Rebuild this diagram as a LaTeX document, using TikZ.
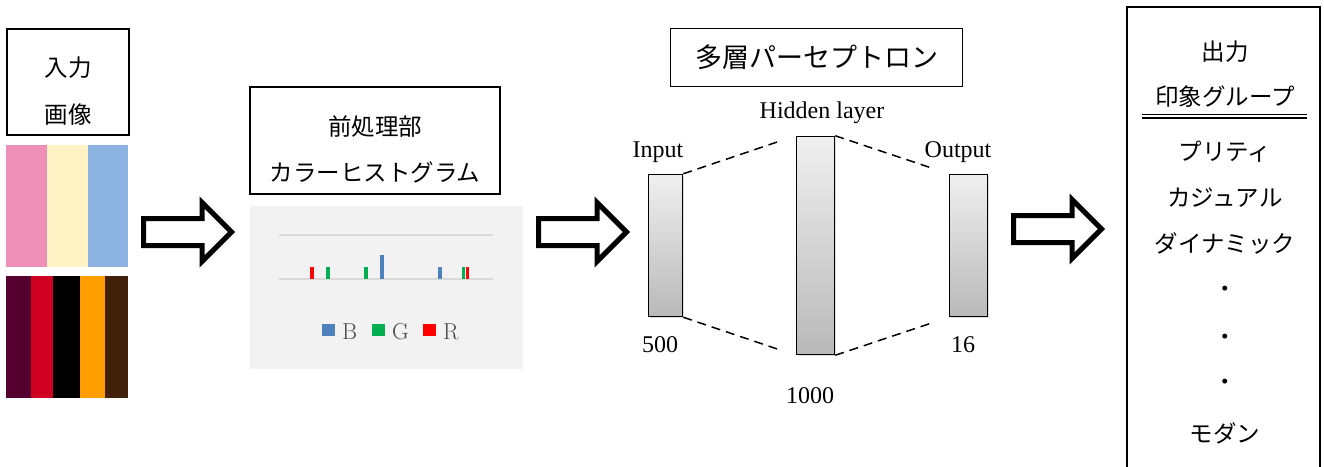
\documentclass[tikz,border=0pt]{standalone}
\usepackage{fontspec}
\setmainfont{Liberation Serif}
\newfontfamily\jp{Noto Sans CJK JP}
\usetikzlibrary{shapes.arrows,shadows}

\definecolor{pinkc}{RGB}{239,144,184}
\definecolor{creamc}{RGB}{255,242,196}
\definecolor{bluec}{RGB}{141,179,226}
\definecolor{winec}{RGB}{85,0,47}
\definecolor{redc}{RGB}{208,0,34}
\definecolor{orangec}{RGB}{255,158,0}
\definecolor{brownc}{RGB}{66,33,11}
\definecolor{histbg}{RGB}{242,242,242}
\definecolor{gridc}{RGB}{217,217,217}
\definecolor{barB}{RGB}{79,129,189}
\definecolor{barG}{RGB}{0,176,80}
\definecolor{barR}{RGB}{255,0,0}

\tikzset{
  box/.style={draw, line width=2pt, rectangle, inner sep=0pt},
  jtxt/.style={font=\jp\fontsize{23.5}{28}\selectfont, inner sep=0pt},
  ltxt/.style={font=\fontsize{24}{28}\selectfont, anchor=base, inner sep=0pt},
  layer/.style={draw, line width=1.5pt, rectangle, inner sep=0pt, top color=gray!12, bottom color=gray!55,
    drop shadow={shadow xshift=1.5pt, shadow yshift=-1.5pt, opacity=.25}},
  flow/.style={draw, line width=5pt, line join=miter, fill=white, single arrow, single arrow head extend=16pt,
    minimum height=88pt, minimum width=54pt, inner xsep=0pt, inner ysep=11pt, anchor=tail},
  link/.style={dashed, dash pattern=on 9pt off 6pt, line width=1.5pt}
}

\begin{document}
\begin{tikzpicture}[x=1pt, y=-1pt]
\useasboundingbox (0,0) rectangle (1324,466);

% input image
\node[box, minimum width=122pt, minimum height=106pt] (inbox) at (68,82) {};
\node[jtxt] (intop) at (68,68) {入力};
\node[jtxt] (inbot) at (68,115) {画像};
\foreach \c/\a/\b in {pinkc/6/47, creamc/47/88, bluec/88/128}
{
	\fill[\c] (\a,145) rectangle (\b,267);
}
\foreach \c/\a/\b in {winec/6/31, redc/31/53, black/53/80, orangec/80/105, brownc/105/128}
{
	\fill[\c] (\a,276) rectangle (\b,398);
}

\node[flow] (a1) at (141,232) {};

% preprocessing
\node[box, minimum width=250pt, minimum height=107pt] (prebox) at (375,140.5) {};
\node[jtxt] (pretop) at (375,127) {前処理部};
\node[jtxt] (prebot) at (375,172) {カラーヒストグラム};

\node[fill=histbg, minimum width=273pt, minimum height=163pt, inner sep=0pt] (hist) at (386.5,287.5) {};
\draw[gridc, line width=1.2pt] (279,235)--(493,235);
\draw[gridc, line width=1.2pt] (279,279)--(493,279);
\foreach \c/\x/\h in {barR/312/12, barG/328/12, barG/366/12, barB/382/24, barB/440/12, barG/463.5/12, barR/467.5/12}
{
	\fill[\c] (\x-1.7,279) rectangle (\x+1.7,279-\h);
}
\foreach \c/\x/\t in {barB/328/B, barG/378/G, barR/429/R}
{
	\fill[\c] (\x-6.5,324) rectangle (\x+6.5,336);
	\node[font=\fontfamily{lmr}\selectfont\fontsize{23}{26}\selectfont, text=black!72, anchor=base west, inner sep=0pt]
		(leg\t) at (\x+14,339) {\t};
}

\node[flow] (a2) at (536,232) {};

% perceptron
\node[draw, line width=1.2pt, minimum width=292pt, minimum height=58pt, inner sep=0pt,
	font=\jp\fontsize{27}{30}\selectfont] (mlp) at (816.5,57.5) {多層パーセプトロン};

\node[layer, minimum width=34pt, minimum height=142pt] (inl) at (665.5,245.5) {};
\node[layer, minimum width=38pt, minimum height=218pt] (hid) at (815.5,245.5) {};
\node[layer, minimum width=38pt, minimum height=142pt] (outl) at (968.5,245.5) {};

\draw[link, shorten >=14pt] (inl.north east)--(hid.north west);
\draw[link, shorten >=14pt] (inl.south east)--(hid.south west);
\draw[link, shorten >=15pt] (hid.north east)--(outl.north west);
\draw[link, shorten >=15pt] (hid.south east)--(outl.south west);

\node[ltxt] (inname) at (658,157) {Input};
\node[ltxt] (hidname) at (822,118) {Hidden layer};
\node[ltxt] (outname) at (958,157) {Output};
\node[ltxt] (innum) at (660,352) {500};
\node[ltxt] (hidnum) at (810,403) {1000};
\node[ltxt] (outnum) at (963,352) {16};

\node[flow] (a3) at (1011,229) {};

% output groups
\node[box, minimum width=193pt, minimum height=480pt] (outbox) at (1223.5,247) {};
\foreach \t/\y [count=\i] in {出力/52, 印象グループ/97, プリティ/152, カジュアル/198, ダイナミック/243, ・/292, ・/340, ・/385, モダン/433}
{
	\node[jtxt] (grp\i) at (1225,\y) {\t};
}
\draw[line width=1.3pt] (1142,114.5)--(1307,114.5);
\draw[line width=1.3pt] (1142,118)--(1307,118);

\end{tikzpicture}
\end{document}
